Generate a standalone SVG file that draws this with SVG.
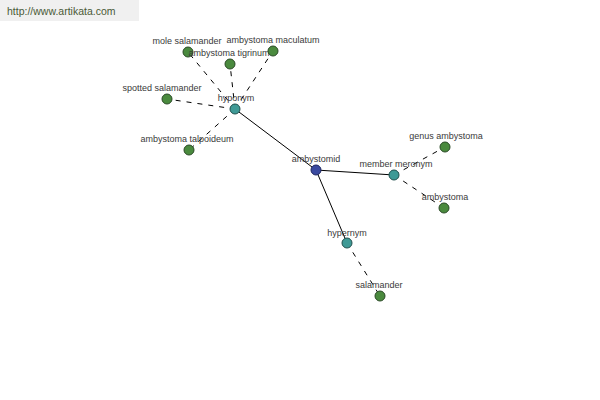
<svg xmlns="http://www.w3.org/2000/svg" width="600" height="400" viewBox="0 0 600 400">
<style>
.lbl{font-family:"Liberation Sans",Arial,sans-serif;font-size:9px;fill:#3a3a3a;text-anchor:middle}
.solid{stroke:#000;stroke-width:1;fill:none}
.dash{stroke:#000;stroke-width:1;fill:none;stroke-dasharray:5,6}
.leaf{fill:#4a8a3e;stroke:#2a4a26;stroke-width:1}
.rel{fill:#3f9a96;stroke:#20504e;stroke-width:1}
.root{fill:#3a4aa0;stroke:#1e2660;stroke-width:1}
</style>
<rect x="0" y="0" width="139" height="21" fill="#f0f0f0"/>
<text x="7" y="15" font-family="Liberation Sans,Arial,sans-serif" font-size="10.5" fill="#4a5a36">http://www.artikata.com</text>
<g id="connectors">
<line class="solid" x1="316" y1="170" x2="235" y2="109"/>
<line class="solid" x1="316" y1="170" x2="394" y2="175"/>
<line class="solid" x1="316" y1="170" x2="347" y2="243"/>
<line class="dash" x1="235" y1="109" x2="188" y2="52"/>
<line class="dash" x1="235" y1="109" x2="230" y2="64"/>
<line class="dash" x1="235" y1="109" x2="273" y2="51"/>
<line class="dash" x1="235" y1="109" x2="167" y2="99"/>
<line class="dash" x1="235" y1="109" x2="189" y2="150"/>
<line class="dash" x1="394" y1="175" x2="445" y2="147"/>
<line class="dash" x1="394" y1="175" x2="444" y2="208"/>
<line class="dash" x1="347" y1="243" x2="380" y2="296"/>
</g>
<g id="n-mole-salamander"><circle class="leaf" cx="188" cy="52" r="5"/><text class="lbl" x="187" y="44">mole salamander</text></g>
<g id="n-ambystoma-tigrinum"><circle class="leaf" cx="230" cy="64" r="5"/><text class="lbl" x="229" y="56">ambystoma tigrinum</text></g>
<g id="n-ambystoma-maculatum"><circle class="leaf" cx="273" cy="51" r="5"/><text class="lbl" x="273" y="43">ambystoma maculatum</text></g>
<g id="n-spotted-salamander"><circle class="leaf" cx="167" cy="99" r="5"/><text class="lbl" x="162" y="91">spotted salamander</text></g>
<g id="n-ambystoma-talpoideum"><circle class="leaf" cx="189" cy="150" r="5"/><text class="lbl" x="187" y="142">ambystoma talpoideum</text></g>
<g id="n-hyponym"><circle class="rel" cx="235" cy="109" r="5"/><text class="lbl" x="236" y="101">hyponym</text></g>
<g id="n-ambystomid"><circle class="root" cx="316" cy="170" r="5"/><text class="lbl" x="316" y="162">ambystomid</text></g>
<g id="n-member-meronym"><circle class="rel" cx="394" cy="175" r="5"/><text class="lbl" x="396" y="167">member meronym</text></g>
<g id="n-genus-ambystoma"><circle class="leaf" cx="445" cy="147" r="5"/><text class="lbl" x="446" y="139">genus ambystoma</text></g>
<g id="n-ambystoma"><circle class="leaf" cx="444" cy="208" r="5"/><text class="lbl" x="445" y="200">ambystoma</text></g>
<g id="n-hypernym"><circle class="rel" cx="347" cy="243" r="5"/><text class="lbl" x="347" y="236">hypernym</text></g>
<g id="n-salamander"><circle class="leaf" cx="380" cy="296" r="5"/><text class="lbl" x="379" y="288">salamander</text></g>
</svg>
